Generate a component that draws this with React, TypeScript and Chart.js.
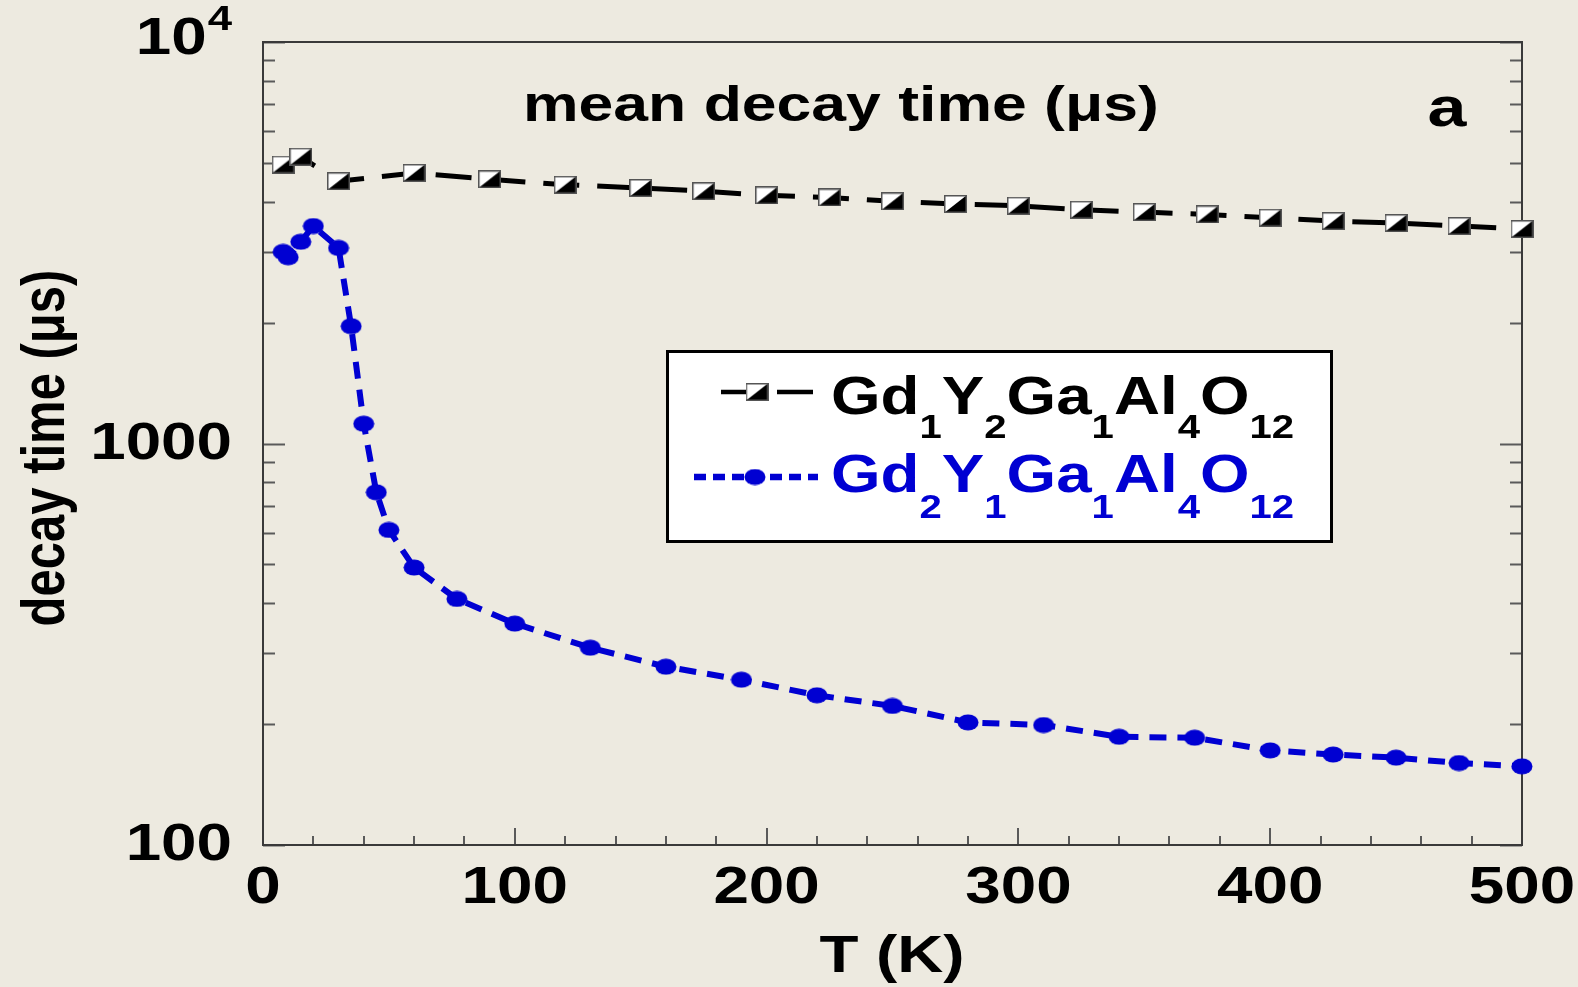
import React, { useEffect, useRef } from 'react';
import { Chart, registerables } from 'chart.js';

Chart.register(...registerables);

// ---- data ----
const temperatureA = [8, 15, 30, 60, 90, 120, 150, 175, 200, 225, 250, 275, 300, 325, 350, 375, 400, 425, 450, 475, 500];
const decayA = [4950, 5180, 4500, 4720, 4550, 4410, 4330, 4250, 4150, 4100, 4010, 3950, 3910, 3820, 3770, 3720, 3650, 3580, 3540, 3480, 3420];

const temperatureB = [8, 10, 15, 20, 30, 35, 40, 45, 50, 60, 77, 100, 130, 160, 190, 220, 250, 280, 310, 340, 370, 400, 425, 450, 475, 500];
const decayB = [3000, 2910, 3180, 3480, 3070, 1960, 1120, 756, 609, 491, 410, 356, 310, 278, 258, 236, 222, 202, 199, 186, 185, 172, 168, 165, 160, 157];

const xTickValues = [0, 20, 40, 60, 80, 100, 120, 140, 160, 180, 200, 220, 240, 260, 280, 300, 320, 340, 360, 380, 400, 420, 440, 460, 480, 500];
const xMajorTicks = [0, 100, 200, 300, 400, 500];
const xTickLabels = ['0', '100', '200', '300', '400', '500'];

const yTickValues = [100, 200, 300, 400, 500, 600, 700, 800, 900, 1000, 2000, 3000, 4000, 5000, 6000, 7000, 8000, 9000, 10000];
const yMajorTicks = [100, 1000, 10000];
const yTickLabels = ['100', '1000', '10^4'];

const seriesAFormula = [['Gd', '1'], ['Y', '2'], ['Ga', '1'], ['Al', '4'], ['O', '12']];
const seriesBFormula = [['Gd', '2'], ['Y', '1'], ['Ga', '1'], ['Al', '4'], ['O', '12']];

const titleText = 'mean decay time (\u03bcs)';
const panelLabel = 'a';
const xAxisTitle = 'T (K)';
const yAxisTitle = 'decay time (\u03bcs)';

// ---- styles ----
const BG = '#EDEAE0';
const BLUE = '#0000D2';
const FONT = '"Liberation Sans", Arial, Helvetica, sans-serif';
const STRETCH = 1.25;

function makeSquareMarker(): HTMLCanvasElement {
  const c = document.createElement('canvas');
  const w = 23;
  const h = 18;
  c.width = w;
  c.height = h;
  const g = c.getContext('2d')!;
  g.fillStyle = '#ffffff';
  g.fillRect(0, 0, w, h);
  g.fillStyle = '#000000';
  g.beginPath();
  g.moveTo(w, 0);
  g.lineTo(w, h);
  g.lineTo(0, h);
  g.closePath();
  g.fill();
  g.strokeStyle = '#555555';
  g.lineWidth = 1.5;
  g.strokeRect(0.75, 0.75, w - 1.5, h - 1.5);
  return c;
}

function makeDotMarker(): HTMLCanvasElement {
  const c = document.createElement('canvas');
  c.width = 22;
  c.height = 17;
  const g = c.getContext('2d')!;
  g.fillStyle = BLUE;
  g.beginPath();
  g.ellipse(11, 8.5, 10.5, 8, 0, 0, Math.PI * 2);
  g.fill();
  return c;
}

function drawText(
  ctx: CanvasRenderingContext2D,
  text: string,
  x: number,
  y: number,
  size: number,
  sx: number,
  align: 'left' | 'center' | 'right',
  color: string
): number {
  ctx.save();
  ctx.font = `bold ${size}px ${FONT}`;
  ctx.fillStyle = color;
  ctx.textBaseline = 'alphabetic';
  ctx.textAlign = 'left';
  const w = ctx.measureText(text).width * sx;
  const left = align === 'left' ? x : align === 'center' ? x - w / 2 : x - w;
  ctx.translate(left, y);
  ctx.scale(sx, 1);
  ctx.fillText(text, 0, 0);
  ctx.restore();
  return w;
}

function drawFormula(
  ctx: CanvasRenderingContext2D,
  parts: string[][],
  x: number,
  baseline: number,
  subBaseline: number,
  color: string
) {
  let cx = x;
  const sx = 1.18;
  for (const [main, sub] of parts) {
    cx += drawText(ctx, main, cx, baseline, 54, sx, 'left', color);
    cx += drawText(ctx, sub, cx, subBaseline, 34, sx, 'left', color);
  }
}

export default function App() {
  const canvasRef = useRef<HTMLCanvasElement | null>(null);

  useEffect(() => {
    const canvas = canvasRef.current;
    if (!canvas) return;
    document.body.style.margin = '0';
    document.body.style.background = BG;

    const squareMarker = makeSquareMarker();
    const dotMarker = makeDotMarker();

    const backgroundPlugin = {
      id: 'bgPlugin',
      beforeDraw(chart: any) {
        const ctx = chart.ctx as CanvasRenderingContext2D;
        ctx.save();
        ctx.fillStyle = BG;
        ctx.fillRect(0, 0, chart.width, chart.height);
        ctx.restore();
      },
      beforeDatasetsDraw(chart: any) {
        const ctx = chart.ctx as CanvasRenderingContext2D;
        const { left, right, top, bottom } = chart.chartArea;
        const xs = chart.scales.x;
        const ys = chart.scales.y;
        ctx.save();
        ctx.strokeStyle = '#5a5a5a';
        ctx.lineWidth = 2;
        ctx.beginPath();
        for (const v of xTickValues) {
          const px = Math.round(xs.getPixelForValue(v));
          const len = xMajorTicks.includes(v) ? 17 : 9;
          ctx.moveTo(px, bottom);
          ctx.lineTo(px, bottom - len);
        }
        for (const v of yTickValues) {
          const py = Math.round(ys.getPixelForValue(v)) + 0.5;
          const len = yMajorTicks.includes(v) ? 22 : 12;
          ctx.moveTo(left, py);
          ctx.lineTo(left + len, py);
          ctx.moveTo(right, py);
          ctx.lineTo(right - len, py);
        }
        ctx.stroke();
        ctx.strokeStyle = '#3a3a3a';
        ctx.lineWidth = 2;
        ctx.strokeRect(left, top, right - left, bottom - top);
        ctx.restore();
      },
      afterDraw(chart: any) {
        const ctx = chart.ctx as CanvasRenderingContext2D;
        const xs = chart.scales.x;
        const ys = chart.scales.y;
        const { bottom } = chart.chartArea;

        xMajorTicks.forEach((v, i) => {
          drawText(ctx, xTickLabels[i], xs.getPixelForValue(v), bottom + 58, 51, STRETCH, 'center', '#000');
        });
        yMajorTicks.forEach((v, i) => {
          const py = ys.getPixelForValue(v);
          const lab = yTickLabels[i];
          if (lab.includes('^')) {
            const [base, exp] = lab.split('^');
            ctx.save();
            ctx.font = `bold 35px ${FONT}`;
            const ew = ctx.measureText(exp).width * STRETCH;
            ctx.restore();
            drawText(ctx, exp, 232 - ew, py - 12, 35, STRETCH, 'left', '#000');
            drawText(ctx, base, 232 - ew - 1, py + 12, 51, STRETCH, 'right', '#000');
          } else {
            drawText(ctx, lab, 232, py + 15, 51, STRETCH, 'right', '#000');
          }
        });

        drawText(ctx, xAxisTitle, 892, 972, 51, STRETCH, 'center', '#000');
        ctx.save();
        ctx.translate(64, 448);
        ctx.scale(STRETCH, 1);
        ctx.rotate(-Math.PI / 2);
        ctx.font = `bold 49px ${FONT}`;
        ctx.fillStyle = '#000';
        ctx.textAlign = 'center';
        ctx.textBaseline = 'alphabetic';
        ctx.fillText(yAxisTitle, 0, 0);
        ctx.restore();

        drawText(ctx, titleText, 523, 121, 50, STRETCH, 'left', '#000');
        drawText(ctx, panelLabel, 1447, 126, 56, STRETCH, 'center', '#000');

        // legend box
        ctx.save();
        ctx.fillStyle = '#ffffff';
        ctx.fillRect(666, 350, 667, 193);
        ctx.strokeStyle = '#000';
        ctx.lineWidth = 3;
        ctx.strokeRect(667.5, 351.5, 664, 190);

        ctx.strokeStyle = '#000';
        ctx.lineWidth = 4.5;
        ctx.beginPath();
        ctx.moveTo(721, 392);
        ctx.lineTo(748, 392);
        ctx.moveTo(777, 392);
        ctx.lineTo(813, 392);
        ctx.stroke();
        ctx.drawImage(squareMarker, 757 - squareMarker.width / 2, 392 - squareMarker.height / 2);

        ctx.strokeStyle = BLUE;
        ctx.lineWidth = 6.5;
        ctx.setLineDash([12, 7]);
        ctx.beginPath();
        ctx.moveTo(694, 477);
        ctx.lineTo(818, 477);
        ctx.stroke();
        ctx.setLineDash([]);
        ctx.drawImage(dotMarker, 755 - dotMarker.width / 2, 477 - dotMarker.height / 2);
        ctx.restore();

        drawFormula(ctx, seriesAFormula, 831, 414, 438, '#000');
        drawFormula(ctx, seriesBFormula, 831, 492, 518, BLUE);
      },
    };

    const chart = new Chart(canvas, {
      type: 'line',
      data: {
        datasets: [
          {
            label: 'Gd1Y2Ga1Al4O12',
            data: temperatureA.map((t, i) => ({ x: t, y: decayA[i] })),
            borderColor: '#000000',
            backgroundColor: '#000000',
            borderWidth: 5,
            borderDash: [36, 18],
            pointStyle: squareMarker as any,
            pointRadius: 11,
            tension: 0,
            clip: false as any,
          },
          {
            label: 'Gd2Y1Ga1Al4O12',
            data: temperatureB.map((t, i) => ({ x: t, y: decayB[i] })),
            borderColor: BLUE,
            backgroundColor: BLUE,
            borderWidth: 6,
            borderDash: [17, 11],
            pointStyle: dotMarker as any,
            pointRadius: 10,
            tension: 0,
            clip: false as any,
          },
        ],
      },
      options: {
        responsive: false,
        maintainAspectRatio: false,
        animation: false,
        events: [],
        devicePixelRatio: 1,
        layout: { padding: { left: 263, top: 42, right: 56, bottom: 142 } },
        scales: {
          x: { type: 'linear', min: 0, max: 500, display: false },
          y: { type: 'logarithmic', min: 100, max: 10000, display: false },
        },
        plugins: {
          legend: { display: false },
          tooltip: { enabled: false },
          title: { display: false },
        },
      },
      plugins: [backgroundPlugin],
    } as any);

    return () => {
      chart.destroy();
    };
  }, []);

  return (
    <div style={{ position: 'fixed', left: 0, top: 0, width: 1578, height: 987, background: BG }}>
      <canvas ref={canvasRef} width={1578} height={987} style={{ display: 'block', width: 1578, height: 987 }} />
    </div>
  );
}
